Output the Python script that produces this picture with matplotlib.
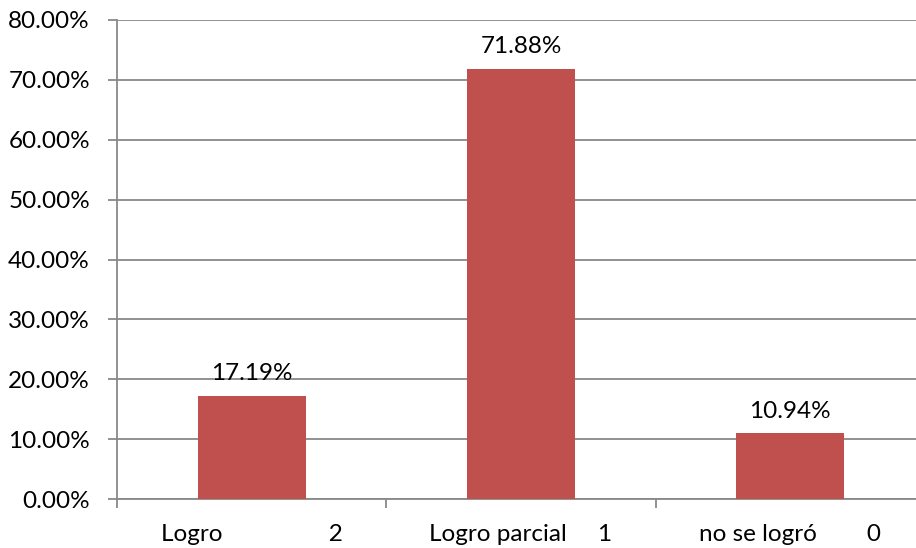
import numpy as np
import matplotlib
matplotlib.use("Agg")
import matplotlib.pyplot as plt
from matplotlib.ticker import FuncFormatter, FixedLocator

plt.rcParams["font.family"] = ["Lato", "DejaVu Sans"]

names = ["Logro", "Logro parcial", "no se logró"]
codes = ["2", "1", "0"]
gaps = [17, 5, 8]
values = [17.19, 71.88, 10.94]

categories = [n + " " * g + c for n, g, c in zip(names, gaps, codes)]

BAR = "#C0504D"
GRID = "#898989"
FS = 17.5

fig = plt.figure(figsize=(9.16, 5.48), dpi=100)
# the plot area runs past the right edge of the canvas
ax = fig.add_axes([117 / 916, 49 / 548, 808 / 916, 479 / 548])

x = np.arange(len(categories))
ax.bar(x, values, width=0.4, color=BAR, zorder=3)

for xi, v in zip(x, values):
    ax.text(xi, v + 2.0, f"{v:.2f}%", ha="center", va="bottom", fontsize=FS, color="black")

ax.set_xlim(-0.5, len(categories) - 0.5)
ax.set_ylim(0, 80)
ax.set_yticks(np.arange(0, 81, 10))
ax.yaxis.set_major_formatter(FuncFormatter(lambda v, _: f"{v:.2f}%"))
ax.yaxis.grid(True, color=GRID, linewidth=1.3, zorder=0)

ax.set_xticks(x)
ax.set_xticklabels(categories)
ax.xaxis.set_minor_locator(FixedLocator(np.arange(-0.5, len(categories), 1.0)))
ax.tick_params(axis="x", which="major", length=0, pad=18, labelsize=FS)
ax.tick_params(axis="x", which="minor", length=6.5, width=1.3, color=GRID, direction="out")
ax.tick_params(axis="y", length=6.5, width=1.3, color=GRID, labelsize=FS, pad=13)

for side in ("top", "right"):
    ax.spines[side].set_visible(False)
for side in ("left", "bottom"):
    ax.spines[side].set_color(GRID)
    ax.spines[side].set_linewidth(1.3)

fig.savefig("out.png", dpi=100)
